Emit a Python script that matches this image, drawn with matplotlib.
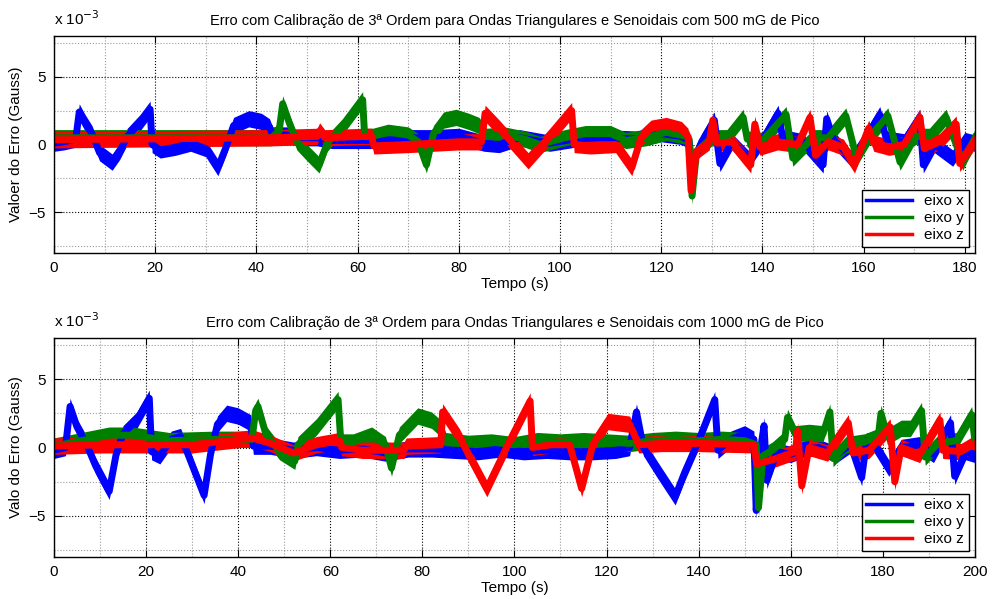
import numpy as np
import matplotlib
matplotlib.use("Agg")
import matplotlib.pyplot as plt
from matplotlib.ticker import MultipleLocator
from matplotlib.lines import Line2D

plt.rcParams['font.family'] = ['Liberation Sans', 'DejaVu Sans']

# error values in units of 1e-3 Gauss
# ---- 500 mG peak ----
t1_x = [0, 2, 4.3, 5, 6, 7.5, 9, 11.5, 13, 14.5, 17, 19, 19.4, 21, 24, 27, 30, 32.4, 34, 35.5,
        38.5, 41, 42.6, 43.2, 46, 48, 52, 55, 60, 65, 70, 75, 80, 85, 88, 92, 98, 103, 108, 115,
        120, 124, 125.5, 126.1, 128, 130.5, 131.6, 134, 137.4, 140, 143.1, 144, 148, 152, 152.7,
        154, 157.7, 160, 163.2, 164.5, 168, 171.1, 171.8, 174, 177.6, 180, 182]
v1_x = [0.1, 0.2, 0.4, 2.4, 1.7, 0.8, -0.6, -1.3, -0.5, 0.6, 1.6, 2.6, 0.0, -0.4, -0.2, 0.1, -0.3, -1.7, -0.2, 1.4,
        1.9, 1.7, 1.3, 0.7, 0.7, 0.5, 0.5, 0.3, 0.3, 0.3, 0.5, 0.5, 0.6, 0.1, 0.0, 0.5, 0.1, 0.4, 0.5, 0.4,
        0.8, 0.6, 0.3, -1.5, 0.2, 1.8, -1.4, 0.2, -1.1, 0.3, 2.3, 0.5, 0.2, -1.5, 1.9,
        0.4, -1.1, 0.2, 2.2, 0.4, 0.2, 2.0, -1.5, 0.0, -1.0, 0.3, 0.1]

t1_y = [0, 43, 44.5, 45.2, 46.5, 48, 50, 52.4, 54, 57, 61, 61.4, 63, 66, 70, 72, 73.6, 75, 77, 79.5,
        82, 84, 85.5, 89, 93, 96, 101, 105, 110, 113, 117, 121, 125, 125.5, 126.1, 127, 130, 133,
        136.2, 137, 140, 144.7, 146, 150, 153, 156.5, 158.6, 161, 164.8, 167.2, 170, 173, 176.3,
        179.6, 182]
v1_y = [0.5, 0.5, 1.0, 3.0, 1.6, 0.2, -0.6, -1.5, 0.1, 1.3, 3.3, 0.6, 0.6, 0.9, 0.7, 0.2, -1.5, 0.8, 1.8, 2.0,
        1.7, 1.4, 0.6, 0.7, 0.4, 0.0, 0.5, 0.8, 0.8, 0.3, 0.5, 0.9, 0.6, 0.4, -3.8, -0.5, 0.5, 0.5,
        2.0, 0.4, 0.3, 2.2, -1.0, 0.5, 0.5, 2.1, -1.0, 0.5, 2.1, -1.3, 0.6, 0.6, 2.0,
        -1.3, 0.5]

t1_z = [0, 43, 52, 52.5, 53.5, 54, 61.5, 62.8, 63.2, 70, 80, 84.5, 85.2, 88, 93.7, 98, 102.3, 102.8,
        106, 111, 114.2, 116, 118, 121, 124, 125.3, 125.9, 127, 129.5, 130.2, 131, 134, 137.7, 138.5,
        139.5, 143, 147, 149.4, 150.5, 153, 156, 158.2, 161, 162, 165, 168, 171.1, 172, 175, 178.3,
        179, 182]
v1_z = [0.35, 0.5, 0.6, 1.0, 0.5, 0.5, 0.6, 0.6, -0.1, 0.0, 0.2, 0.2, 2.3, 1.2, -1.2, 0.6, 2.5, 0.0,
        -0.1, 0.0, -1.7, 0.5, 1.2, 1.4, 1.1, 0.6, -3.4, -0.5, 0.2, 1.8, 0.1, 0.2, -1.5, 1.5,
        -0.2, 0.2, 0.0, 2.0, -0.8, 0.2, -0.2, -1.5, 1.2, 0.1, -0.2, 0.0, 2.0, -0.3, 0.2, 1.5,
        -1.4, 0.3]

# ---- 1000 mG peak ----
t2_x = [0, 2.5, 3.5, 5, 7, 9, 12, 13.5, 15, 18, 20.7, 21.2, 23, 25.5, 27.5, 29, 32.6, 34, 35.5, 37.5,
        40, 42.7, 43.3, 47, 52, 57, 62, 67, 72, 77, 82, 87, 92, 97, 102, 107, 112, 117, 122, 125,
        126.5, 128, 131, 134.9, 137, 140, 143.5, 144.2, 147, 150, 152, 152.5, 153.5, 154.2, 154.8,
        157, 160, 163, 166, 170, 173, 175.4, 176.5, 178, 181.3, 184, 188, 191, 194.7, 195.6, 198, 200]
v2_x = [-0.2, 0.0, 3.0, 1.5, 0.3, -1.3, -3.2, -0.5, 1.0, 2.0, 3.6, -0.3, -0.6, 0.6, 0.8, -0.4, -3.5, -0.5, 1.7, 2.5,
        2.3, 1.8, 0.1, 0.1, -0.2, 0.0, -0.2, -0.1, -0.4, -0.1, -0.1, -0.2, -0.3, -0.1, -0.3, -0.2, -0.3, -0.3, -0.2, 0.0,
        2.6, 0.0, -1.6, -3.6, -1.8, 0.5, 3.5, -0.2, 0.6, 1.0, 0.6, -4.6, 0.0, 1.6, -2.4,
        -0.3, -0.5, -0.1, 0.0, -0.5, 0.2, -2.2, 0.5, 0.3, -1.5, 0.0, 0.2, -0.5, 1.8, -2.1, -0.3, -0.5]

t2_y = [0, 6, 12, 17, 25, 35, 43, 43.8, 44.3, 46, 49, 52.3, 53, 57, 61.7, 62.3, 65, 69, 72, 73.3,
        75, 79, 82, 84, 85, 90, 95, 100, 105, 110, 115, 120, 125, 130, 135, 140, 145, 150, 152.5,
        153, 154, 156, 158.7, 159.3, 161, 164, 167, 168.5, 169.2, 172, 176, 179, 179.6, 181, 184,
        186, 188.4, 189.2, 192, 196, 199.3, 200]
v2_y = [0.1, 0.5, 0.9, 0.9, 0.5, 0.6, 0.6, 2.7, 3.0, 1.0, -0.3, -1.0, 0.2, 1.5, 3.5, 0.4, 0.4, 0.9, 0.2, -1.5,
        0.9, 2.3, 2.0, 1.4, 0.5, 0.3, 0.4, 0.2, 0.5, 0.4, 0.5, 0.4, 0.3, 0.5, 0.6, 0.5, 0.6, 0.5, 0.2,
        -4.4, -0.6, -0.2, 0.6, 2.2, 1.0, 1.1, 1.0, 2.6, -0.8, 0.2, 0.4, 0.8, 2.5, 0.8, 1.4,
        1.4, 2.7, -0.7, 0.3, 0.5, 2.4, 0.5]

t2_z = [0, 10, 20, 30, 43, 47, 52, 57, 62, 62.5, 67, 76, 76.5, 84, 84.4, 88, 94, 99, 103.4, 103.9,
        108, 112, 114.6, 117, 120.3, 125, 127, 132, 140, 152, 152.6, 156, 161, 161.5, 162.4, 164,
        168, 172.5, 173.5, 177, 181.6, 182.6, 184, 188, 192.4, 193, 197, 200]
v2_z = [0.1, 0.2, 0.2, 0.2, 0.7, 0.3, -0.4, 0.2, 0.5, 0.0, -0.2, -0.2, 0.1, 0.2, 2.6, 0.8, -3.0, 0.5, 3.4, 0.0,
        0.2, 0.2, -3.0, 0.2, 1.9, 1.7, 0.2, 0.3, 0.3, 0.2, -1.2, -0.9, -0.3, 1.2, -2.8, 0.0,
        -0.4, 1.8, -0.4, -0.2, 1.5, -2.5, 0.0, -0.5, 2.0, -0.2, -0.3, 0.3]

labels = ['eixo x', 'eixo y', 'eixo z']
colors = ['#0000ff', '#008000', '#ff0000']

panels = [
    dict(series=[(t1_x, v1_x), (t1_y, v1_y), (t1_z, v1_z)], xmax=182,
         title='Erro com Calibração de 3ª Ordem para Ondas Triangulares e Senoidais com 500 mG de Pico',
         ylabel='Valoer do Erro (Gauss)', rect=[0.0544, 0.5776, 0.9284, 0.3623]),
    dict(series=[(t2_x, v2_x), (t2_y, v2_y), (t2_z, v2_z)], xmax=200,
         title='Erro com Calibração de 3ª Ordem para Ondas Triangulares e Senoidais com 1000 mG de Pico',
         ylabel='Valo do Erro (Gauss)', rect=[0.0544, 0.0701, 0.9284, 0.3656]),
]

fig = plt.figure(figsize=(9.92, 5.99), dpi=100)

for p in panels:
    ax = fig.add_axes(p['rect'])
    for (t, v), c in zip(p['series'], colors):
        t = np.array(t)
        v = np.array(v)
        # noisy trace drawn as a band around its running level
        ax.fill_between(t, v - 0.6, v + 0.6, color=c, lw=0)
        ax.plot(t, v, color=c, lw=5, solid_joinstyle='round')

    ax.set_xlim(0, p['xmax'])
    ax.set_ylim(-8, 8)
    ax.xaxis.set_major_locator(MultipleLocator(20))
    ax.xaxis.set_minor_locator(MultipleLocator(10))
    ax.yaxis.set_major_locator(MultipleLocator(5))
    ax.yaxis.set_minor_locator(MultipleLocator(2.5))
    ax.grid(which='major', color='black', linestyle=':', lw=0.8)
    ax.grid(which='minor', color='#999999', linestyle=':', lw=0.8)
    ax.set_axisbelow(True)
    ax.tick_params(which='major', direction='in', length=6, top=True, right=True,
                   labelsize=11, pad=6)
    ax.tick_params(which='minor', length=0)
    ax.yaxis.set_major_formatter(plt.FuncFormatter(lambda y, _: f'{y:g}'.replace('-', '\u2212')))
    for s in ax.spines.values():
        s.set_linewidth(1.0)

    ax.set_title(p['title'], fontsize=10.5, pad=8)
    ax.set_xlabel('Tempo (s)', fontsize=11, labelpad=1)
    ax.set_ylabel(p['ylabel'], fontsize=11, labelpad=4)
    ax.text(0.0, 1.035, r'x 10$^{-3}$', transform=ax.transAxes, fontsize=11,
            ha='left', va='bottom')

    handles = [Line2D([], [], color=c, lw=2.5) for c in colors]
    leg = ax.legend(handles, labels, loc='lower right', fontsize=11, fancybox=False,
                    framealpha=1, edgecolor='black', handlelength=3.0,
                    borderaxespad=0.4, labelspacing=0.2, borderpad=0.3)
    leg.get_frame().set_linewidth(1.0)

fig.savefig('out.png', dpi=100)
